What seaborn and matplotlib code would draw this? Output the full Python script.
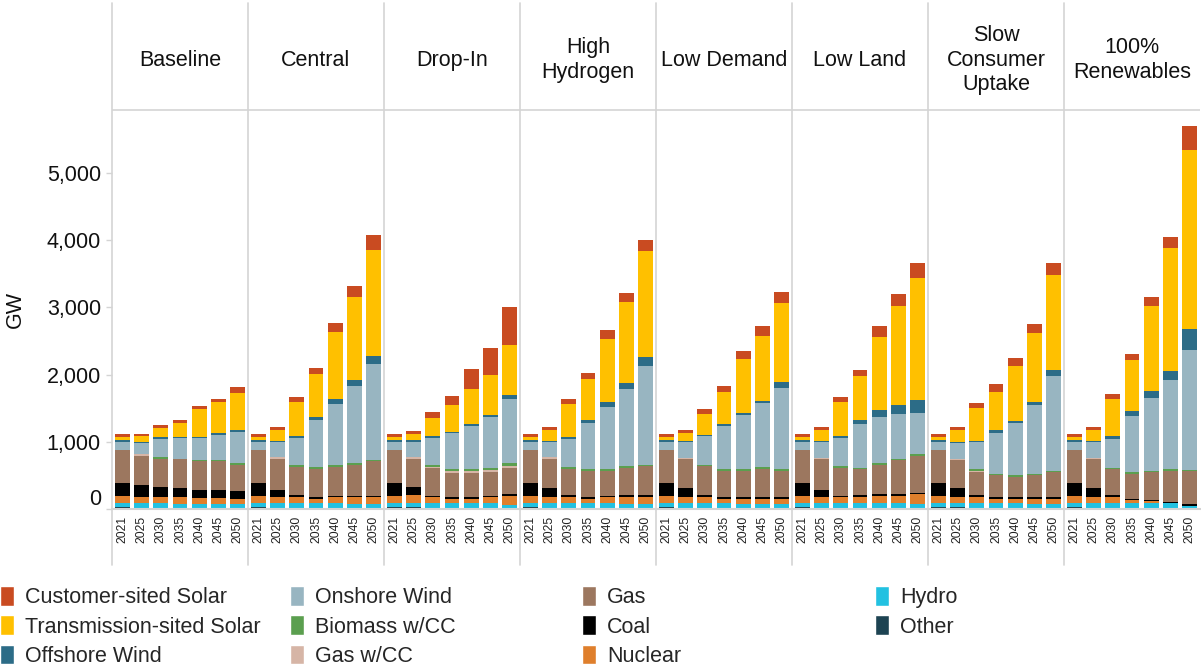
import pandas as pd
import matplotlib.pyplot as plt
import matplotlib.patches as mpatches
import matplotlib.transforms as mtransforms
from matplotlib.lines import Line2D
import seaborn as sns

# scenario columns and model years
scenarios = ["Baseline", "Central", "Drop-In", "High\nHydrogen", "Low Demand",
             "Low Land", "Slow\nConsumer\nUptake", "100%\nRenewables"]
years = ["2021", "2025", "2030", "2035", "2040", "2045", "2050"]

# legend order (top of stack first)
techs = ["Customer-sited Solar", "Transmission-sited Solar", "Offshore Wind",
         "Onshore Wind", "Biomass w/CC", "Gas w/CC",
         "Gas", "Coal", "Nuclear",
         "Hydro", "Other"]
colors = ["#C94B21", "#FFC000", "#2C6C87",
          "#98B5C1", "#5B9F4F", "#D6B5A6",
          "#9C775F", "#000000", "#DF7F2C",
          "#22C1E1", "#1D4352"]

# capacity in GW, one row per scenario, one value per year
customer_solar = [[45, 30, 45, 45, 45, 45, 90],
                  [45, 45, 75, 90, 135, 165, 210],
                  [45, 45, 90, 135, 300, 405, 555],
                  [45, 45, 75, 90, 135, 135, 165],
                  [45, 45, 75, 90, 120, 150, 165],
                  [45, 45, 75, 90, 165, 180, 225],
                  [45, 45, 75, 120, 120, 135, 180],
                  [45, 45, 75, 90, 135, 165, 360]]
transmission_solar = [[45, 85, 135, 200, 410, 465, 555],
                      [45, 165, 510, 645, 1000, 1240, 1585],
                      [45, 90, 270, 405, 525, 600, 750],
                      [45, 165, 495, 615, 945, 1200, 1575],
                      [45, 120, 315, 480, 810, 975, 1170],
                      [45, 165, 510, 660, 1095, 1470, 1815],
                      [45, 180, 495, 570, 825, 1035, 1410],
                      [45, 165, 555, 765, 1260, 1830, 2655]]
offshore_wind = [[30, 15, 30, 25, 25, 30, 20],
                 [30, 15, 30, 45, 75, 90, 120],
                 [30, 30, 30, 15, 30, 30, 60],
                 [30, 15, 30, 45, 75, 90, 135],
                 [30, 15, 15, 30, 30, 30, 90],
                 [30, 15, 30, 60, 105, 135, 195],
                 [30, 15, 15, 45, 30, 45, 90],
                 [30, 15, 45, 75, 105, 135, 315]]
onshore_wind = [[105, 155, 255, 300, 315, 370, 470],
                [105, 220, 400, 700, 910, 1145, 1430],
                [105, 220, 400, 525, 630, 750, 945],
                [105, 220, 415, 675, 915, 1140, 1470],
                [105, 225, 420, 630, 795, 945, 1200],
                [105, 225, 405, 645, 675, 660, 600],
                [105, 225, 390, 600, 765, 1020, 1410],
                [105, 225, 420, 825, 1080, 1320, 1785]]
biomass_cc = [[0, 0, 30, 10, 25, 15, 20],
              [0, 0, 30, 20, 30, 20, 15],
              [0, 0, 30, 30, 30, 30, 45],
              [0, 0, 20, 30, 30, 30, 15],
              [0, 0, 15, 30, 30, 30, 30],
              [0, 0, 30, 15, 30, 15, 30],
              [0, 0, 30, 15, 30, 15, 15],
              [0, 0, 15, 30, 15, 30, 15]]
gas_cc = [[0, 30, 0, 0, 0, 0, 0],
          [0, 20, 0, 0, 0, 0, 0],
          [0, 20, 15, 30, 30, 30, 30],
          [0, 20, 0, 0, 0, 0, 0],
          [0, 15, 0, 0, 0, 0, 0],
          [0, 15, 0, 0, 0, 0, 0],
          [0, 15, 15, 0, 0, 0, 0],
          [0, 15, 0, 0, 0, 0, 0]]
gas = [[495, 435, 420, 425, 425, 425, 390],
       [495, 465, 410, 420, 425, 465, 515],
       [495, 420, 405, 360, 360, 360, 390],
       [495, 435, 390, 390, 375, 405, 435],
       [495, 435, 435, 390, 390, 420, 390],
       [495, 465, 420, 390, 435, 510, 555],
       [495, 420, 345, 330, 300, 330, 375],
       [495, 435, 390, 375, 420, 465, 495]]
coal = [[195, 180, 150, 135, 120, 120, 120],
        [195, 105, 30, 30, 15, 15, 15],
        [195, 120, 20, 30, 30, 15, 30],
        [195, 135, 30, 30, 15, 30, 30],
        [195, 135, 30, 30, 30, 30, 30],
        [195, 105, 15, 30, 30, 30, 15],
        [195, 135, 30, 30, 30, 30, 30],
        [195, 135, 30, 15, 15, 15, 30]]
nuclear = [[105, 95, 95, 105, 90, 90, 75],
           [105, 90, 90, 60, 90, 105, 105],
           [105, 120, 90, 60, 60, 90, 135],
           [105, 90, 90, 60, 90, 105, 105],
           [105, 90, 90, 60, 75, 75, 75],
           [105, 90, 90, 90, 105, 105, 150],
           [105, 90, 90, 60, 60, 75, 75],
           [105, 90, 90, 45, 30, 0, 0]]
hydro = [[60, 85, 85, 75, 75, 75, 75],
         [60, 90, 90, 90, 90, 75, 75],
         [60, 60, 90, 90, 90, 90, 60],
         [60, 90, 90, 90, 90, 75, 75],
         [60, 90, 90, 90, 75, 75, 75],
         [60, 90, 90, 90, 90, 90, 75],
         [60, 60, 90, 90, 90, 75, 75],
         [60, 90, 90, 90, 90, 90, 45]]
other = [[30, 0, 0, 0, 0, 0, 0],
         [30, 0, 0, 0, 0, 0, 0],
         [30, 30, 0, 0, 0, 0, 0],
         [30, 0, 0, 0, 0, 0, 0],
         [30, 0, 0, 0, 0, 0, 0],
         [30, 0, 0, 0, 0, 0, 0],
         [30, 30, 0, 0, 0, 0, 0],
         [30, 0, 0, 0, 0, 0, 0]]

tables = [customer_solar, transmission_solar, offshore_wind, onshore_wind,
          biomass_cc, gas_cc, gas, coal, nuclear, hydro, other]

rows = []
for tech, table in zip(techs, tables):
    for s, scen in enumerate(scenarios):
        for y in range(len(years)):
            rows.append((scen, y, tech, table[s][y]))
df = pd.DataFrame(rows, columns=["scenario", "year", "tech", "GW"])

sns.set_style("white")
plt.rcParams["font.family"] = ["Liberation Sans", "DejaVu Sans"]

W, H = 1201, 671
FS = 15.5
line_c = "#D4D4D4"
px_per_gw = 0.0672
y0 = 509  # pixel row of the zero line
ytop = (y0 - 3) / px_per_gw
y_head = (y0 - 110) / px_per_gw
y_text = (y0 - 60) / px_per_gw

fig = plt.figure(figsize=(W / 100, H / 100), dpi=100)

for i, scen in enumerate(scenarios):
    ax = fig.add_axes([(112 + 136 * i) / W, (H - y0) / H, 136 / W, (y0 - 3) / H])
    sub = df[df["scenario"] == scen]
    sns.histplot(data=sub, x="year", weights="GW", hue="tech", hue_order=techs,
                 palette=colors, multiple="stack", discrete=True, shrink=0.78,
                 alpha=1, linewidth=0, legend=False, ax=ax)
    ax.set_xlim(-0.55, 6.55)
    ax.set_ylim(0, ytop)
    ax.set_xlabel("")
    ax.set_ylabel("")
    for side in ["top", "right", "left"]:
        ax.spines[side].set_visible(False)
    ax.spines["bottom"].set_color(line_c)
    ax.spines["bottom"].set_linewidth(1.5)
    ax.axhline(y_head, color=line_c, lw=1.2)
    ax.text(3, y_text, scen, ha="center", va="center", fontsize=FS,
            linespacing=1.2, color="#111111")
    ax.set_xticks(range(len(years)))
    ax.set_xticklabels(years, rotation=90, fontsize=8.7, color="#222222")
    ax.tick_params(axis="x", length=0, pad=5)
    if i == 0:
        ax.set_yticks([0, 1000, 2000, 3000, 4000, 5000])
        ax.set_yticklabels(["0", "1,000", "2,000", "3,000", "4,000", "5,000"],
                           fontsize=FS, color="#111111")
        ax.tick_params(axis="y", length=4.5, width=1, color=line_c, pad=3.5, left=True)
        lab0 = ax.get_yticklabels()[0]
        lab0.set_transform(lab0.get_transform() +
                           mtransforms.ScaledTranslation(0, 0.12, fig.dpi_scale_trans))
    else:
        ax.tick_params(axis="y", left=False, labelleft=False)

# panel separators running from header down through the year labels
for i in range(8):
    x = (112 + 136 * i) / W
    fig.add_artist(Line2D([x, x], [1 - 3 / H, 1 - 565 / H],
                          transform=fig.transFigure, color=line_c, lw=1.2))

fig.text(15 / W, 1 - 310 / H, "GW", rotation=90, ha="center", va="center",
         fontsize=FS, color="#111111")

# legend in four evenly spaced columns
color_map = dict(zip(techs, colors))
groups = [techs[0:3], techs[3:6], techs[6:9], techs[9:11]]
for names, x in zip(groups, [0, 290, 582, 875]):
    handles = [mpatches.Patch(facecolor=color_map[n], label=n) for n in names]
    fig.legend(handles=handles, loc="upper left", bbox_to_anchor=(x / W, 1 - 586 / H),
               frameon=False, fontsize=FS, handlelength=0.65, handleheight=1.02,
               handletextpad=0.5, labelspacing=0.34, borderpad=0, borderaxespad=0)

fig.savefig("out.png", dpi=100)
